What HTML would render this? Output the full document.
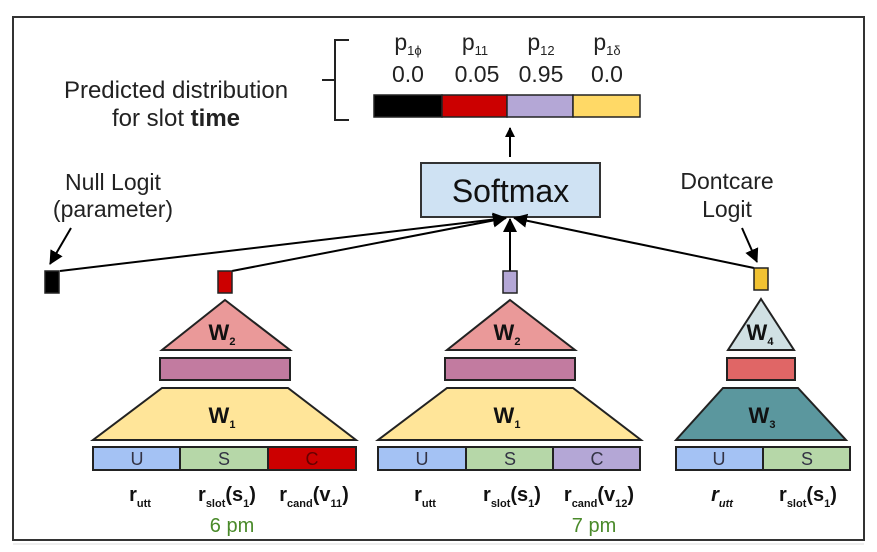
<!DOCTYPE html>
<html><head><meta charset="utf-8"><style>
html,body{margin:0;padding:0;background:#fff;}
svg{display:block;font-family:"Liberation Sans",Arial,sans-serif;}
</style></head><body>
<svg width="877" height="552" viewBox="0 0 877 552" xmlns="http://www.w3.org/2000/svg">
<defs>
<marker id="ah" markerWidth="10" markerHeight="10" refX="9" refY="5" orient="auto" markerUnits="userSpaceOnUse">
<path d="M0,0 L10,5 L0,10 z" fill="#000"/></marker>
<marker id="ah2" markerWidth="14" markerHeight="14" refX="13" refY="7" orient="auto" markerUnits="userSpaceOnUse">
<path d="M0,0 L14,7 L0,14 z" fill="#000"/></marker>
</defs>
<rect x="0" y="0" width="877" height="552" fill="#fff"/>
<rect x="13" y="17" width="851" height="523" fill="none" stroke="#333" stroke-width="2"/>
<line x1="13" y1="544" x2="864" y2="544" stroke="#ddd" stroke-width="1"/>

<path d="M349,40 H335 V120 H349 M335,80 H322" fill="none" stroke="#222" stroke-width="2"/>
<text x="176" y="98" font-size="24" text-anchor="middle" fill="#222">Predicted distribution</text>
<text x="176" y="126" font-size="24" text-anchor="middle" fill="#222">for slot <tspan font-weight="bold">time</tspan></text>

<g font-size="23" fill="#222" text-anchor="middle">
<text x="408" y="50">p<tspan font-size="13" dy="5">1ϕ</tspan></text>
<text x="475" y="50">p<tspan font-size="13" dy="5">11</tspan></text>
<text x="541" y="50">p<tspan font-size="13" dy="5">12</tspan></text>
<text x="607" y="50">p<tspan font-size="13" dy="5">1δ</tspan></text>
<text x="408" y="82">0.0</text>
<text x="477" y="82">0.05</text>
<text x="541" y="82">0.95</text>
<text x="607" y="82">0.0</text>
</g>
<g stroke="#222" stroke-width="1.5">
<rect x="374" y="95" width="68" height="22" fill="#000"/>
<rect x="442" y="95" width="65" height="22" fill="#cc0000"/>
<rect x="507" y="95" width="66" height="22" fill="#b4a7d6"/>
<rect x="573" y="95" width="67" height="22" fill="#ffd966"/>
</g>
<line x1="510" y1="157" x2="510" y2="128" stroke="#000" stroke-width="2" marker-end="url(#ah)"/>

<rect x="421" y="163" width="179" height="54" fill="#cfe2f3" stroke="#333" stroke-width="2"/>
<text x="510.5" y="202" font-size="32" text-anchor="middle" fill="#111">Softmax</text>

<g stroke="#000" stroke-width="2" fill="none">
<line x1="60" y1="271" x2="506" y2="218" marker-end="url(#ah2)"/>
<line x1="232" y1="271" x2="506" y2="218" marker-end="url(#ah2)"/>
<line x1="510" y1="271" x2="510" y2="219" marker-end="url(#ah2)"/>
<line x1="754" y1="268" x2="514" y2="218" marker-end="url(#ah2)"/>
<line x1="71" y1="228" x2="50" y2="264" marker-end="url(#ah2)"/>
<line x1="742" y1="228" x2="757" y2="262" marker-end="url(#ah2)"/>
</g>
<text x="113" y="190" font-size="23" text-anchor="middle" fill="#222">Null Logit</text>
<text x="113" y="217" font-size="23" text-anchor="middle" fill="#222">(parameter)</text>
<text x="727" y="189" font-size="23" text-anchor="middle" fill="#222">Dontcare</text>
<text x="727" y="217" font-size="23" text-anchor="middle" fill="#222">Logit</text>

<g stroke="#222" stroke-width="1.5">
<rect x="45" y="271" width="14" height="22" fill="#000"/>
<rect x="218" y="271" width="14" height="22" fill="#cc0000"/>
<rect x="503" y="271" width="14" height="22" fill="#b4a7d6"/>
<rect x="754" y="268" width="14" height="22" fill="#f1c232"/>
</g>

<g stroke="#222" stroke-width="2">
<polygon points="225,300 290,350 162,350" fill="#ea9999"/>
<rect x="160" y="358" width="130" height="22" fill="#c27ba0"/>
<polygon points="162,388 288,388 356,440 93,440" fill="#ffe599"/>
<rect x="93" y="447" width="87" height="23" fill="#a4c2f4"/>
<rect x="180" y="447" width="88" height="23" fill="#b6d7a8"/>
<rect x="268" y="447" width="88" height="23" fill="#cc0000"/>
</g>
<g stroke="#222" stroke-width="2">
<polygon points="510,300 575,350 447,350" fill="#ea9999"/>
<rect x="445" y="358" width="130" height="22" fill="#c27ba0"/>
<polygon points="447,388 573,388 641,440 378,440" fill="#ffe599"/>
<rect x="378" y="447" width="88" height="23" fill="#a4c2f4"/>
<rect x="466" y="447" width="87" height="23" fill="#b6d7a8"/>
<rect x="553" y="447" width="87" height="23" fill="#b4a7d6"/>
</g>
<g stroke="#222" stroke-width="2">
<polygon points="761,299 794,350 728,350" fill="#d0e0e3"/>
<rect x="727" y="358" width="68" height="22" fill="#e06666"/>
<polygon points="723,388 798,388 846,440 676,440" fill="#5b979e"/>
<rect x="676" y="447" width="87" height="23" fill="#a4c2f4"/>
<rect x="763" y="447" width="87" height="23" fill="#b6d7a8"/>
</g>

<g font-size="22" font-weight="bold" fill="#111" text-anchor="middle">
<text x="222" y="340">W<tspan font-size="11" dy="5">2</tspan></text>
<text x="507" y="340">W<tspan font-size="11" dy="5">2</tspan></text>
<text x="222" y="423">W<tspan font-size="11" dy="5">1</tspan></text>
<text x="507" y="423">W<tspan font-size="11" dy="5">1</tspan></text>
<text x="760" y="340">W<tspan font-size="11" dy="5">4</tspan></text>
<text x="762" y="423">W<tspan font-size="11" dy="5">3</tspan></text>
</g>
<g font-size="18" fill="#334" text-anchor="middle">
<text x="137" y="465">U</text><text x="224" y="465">S</text><text x="312" y="465" fill="#600">C</text>
<text x="422" y="465">U</text><text x="510" y="465">S</text><text x="597" y="465">C</text>
<text x="719" y="465">U</text><text x="807" y="465">S</text>
</g>
<g font-size="20" font-weight="bold" fill="#111" text-anchor="middle">
<text x="140" y="501">r<tspan font-size="11" dy="6">utt</tspan></text>
<text x="227" y="501">r<tspan font-size="11" dy="6">slot</tspan><tspan dy="-6">(s</tspan><tspan font-size="11" dy="6">1</tspan><tspan dy="-6">)</tspan></text>
<text x="314" y="501">r<tspan font-size="11" dy="6">cand</tspan><tspan dy="-6">(v</tspan><tspan font-size="11" dy="6">11</tspan><tspan dy="-6">)</tspan></text>
<text x="425" y="501">r<tspan font-size="11" dy="6">utt</tspan></text>
<text x="512" y="501">r<tspan font-size="11" dy="6">slot</tspan><tspan dy="-6">(s</tspan><tspan font-size="11" dy="6">1</tspan><tspan dy="-6">)</tspan></text>
<text x="599" y="501">r<tspan font-size="11" dy="6">cand</tspan><tspan dy="-6">(v</tspan><tspan font-size="11" dy="6">12</tspan><tspan dy="-6">)</tspan></text>
<text x="722" y="501" font-style="italic">r<tspan font-size="11" dy="6">utt</tspan></text>
<text x="808" y="501">r<tspan font-size="11" dy="6">slot</tspan><tspan dy="-6">(s</tspan><tspan font-size="11" dy="6">1</tspan><tspan dy="-6">)</tspan></text>
</g>
<text x="232" y="532" font-size="20" fill="#4a8a2a" text-anchor="middle">6 pm</text>
<text x="594" y="532" font-size="20" fill="#4a8a2a" text-anchor="middle">7 pm</text>
</svg>
</body></html>
